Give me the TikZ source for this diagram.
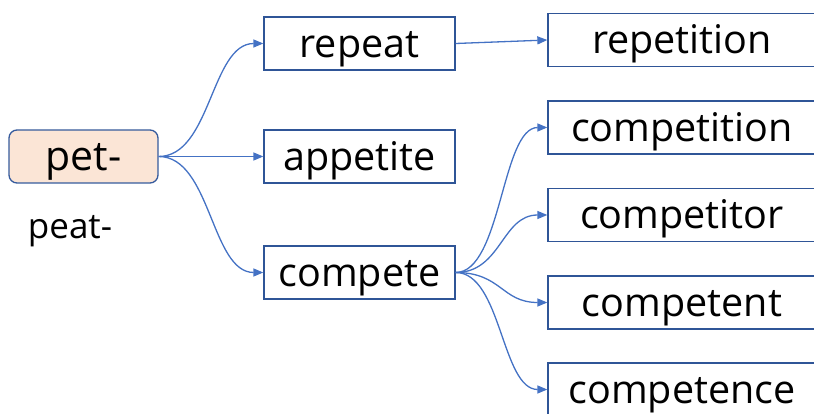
\documentclass[tikz,border=0pt]{standalone}
\usepackage{fontspec}
\setmainfont{Open Sans}
\usetikzlibrary{arrows.meta}
\definecolor{boxblue}{RGB}{47,85,151}
\definecolor{arrblue}{RGB}{68,114,196}
\definecolor{peach}{RGB}{251,229,214}
\begin{document}
\begin{tikzpicture}[x=1pt,y=-1pt,
  wbox/.style={draw=boxblue,line width=1.3pt,inner sep=0pt,minimum height=53pt,
    text height=40.5pt,text depth=12.5pt,font=\fontsize{39.5}{41}\selectfont},
  conn/.style={draw=arrblue,line width=1.3pt,-{Triangle[length=10pt,width=8pt]}}]
\useasboundingbox (0,0) rectangle (814,414);
\clip (0,0) rectangle (814,414);
% left column
\node[wbox,draw=arrblue!80!black,fill=peach,rounded corners=8pt,minimum width=149pt,font=\fontsize{41}{43}\selectfont] (pet) at (83.5,156.5) {pet-};
\node[font=\fontsize{35}{37}\selectfont,anchor=base,inner sep=0pt] (peat) at (70,239) {peat-};
% middle column
\node[wbox,minimum width=191pt] (repeat) at (359.5,43.5) {repeat};
\node[wbox,minimum width=191pt] (appetite) at (359.5,156.5) {appetite};
\node[wbox,minimum width=191pt] (compete) at (359.5,272.5) {compete};
% right column
\node[wbox,minimum width=268pt] (repetition) at (682,40) {repetition};
\node[wbox,minimum width=268pt] (competition) at (682,127.5) {competition};
\node[wbox,minimum width=268pt] (competitor) at (682,215) {competitor};
\node[wbox,minimum width=268pt] (competent) at (682,302.5) {competent};
\node[wbox,minimum width=268pt] (competence) at (682,389.5) {competence};
% helper x positions for curved connectors
\coordinate (m1) at (211,0);
\coordinate (m2) at (501.5,0);
% connectors
\draw[conn] (pet.east) .. controls (pet.east -| m1) and (repeat.west -| m1) .. (repeat.west);
\draw[conn] (pet.east) -- (appetite.west);
\draw[conn] (pet.east) .. controls (pet.east -| m1) and (compete.west -| m1) .. (compete.west);
\draw[conn] (repeat.east) -- (repetition.west);
\draw[conn] (compete.east) .. controls (compete.east -| m2) and (competition.west -| m2) .. (competition.west);
\draw[conn] (compete.east) .. controls (compete.east -| m2) and (competitor.west -| m2) .. (competitor.west);
\draw[conn] (compete.east) .. controls (compete.east -| m2) and (competent.west -| m2) .. (competent.west);
\draw[conn] (compete.east) .. controls (compete.east -| m2) and (competence.west -| m2) .. (competence.west);
\end{tikzpicture}
\end{document}
